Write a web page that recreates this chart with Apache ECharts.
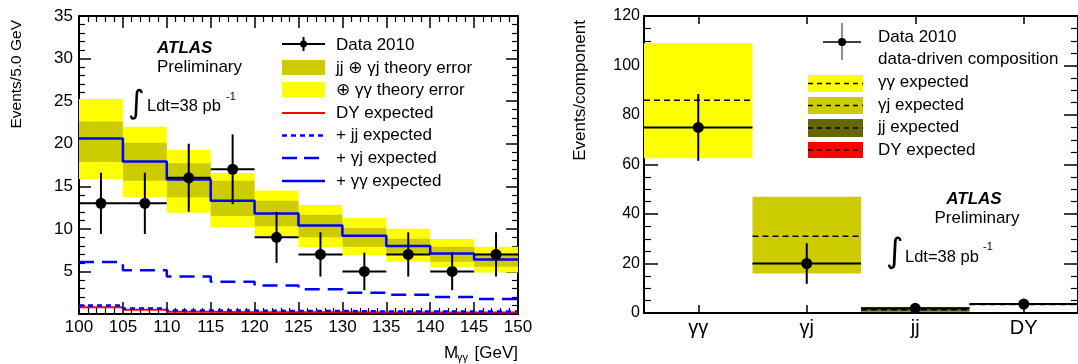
<!DOCTYPE html>
<html><head><meta charset="utf-8">
<script src="https://cdn.jsdelivr.net/npm/echarts@6/dist/echarts.min.js"></script>
<style>html,body{margin:0;padding:0;background:#fff}#c{width:1078px;height:364px}</style>
</head><body><div id="c"></div>
<script>
// ---------- Left panel data (M_gg spectrum) ----------
const binLowEdges = [100,105,110,115,120,125,130,135,140,145];
const binWidth = 5;
const dataCounts = [13,13,16,17,9,7,5,7,5,7];
const dataErr    = [3.6,3.6,4.0,4.1,3.0,2.6,2.2,2.6,2.2,2.6];
const dyExpected = [0.8,0.5,0.25,0.22,0.2,0.2,0.18,0.18,0.18,0.18];
const plusJJ     = [1.0,0.65,0.4,0.4,0.35,0.35,0.3,0.3,0.3,0.3];
const plusGJ     = [6.1,5.15,4.4,3.8,3.35,2.9,2.5,2.25,2.0,1.75];
const plusGG     = [20.6,17.9,15.8,13.3,11.8,10.4,9.2,8.0,7.1,6.4];
const innerErrLo = [17.85,15.65,13.7,11.5,10.3,9.0,7.9,6.98,6.15,5.55];
const innerErrHi = [22.6,20.1,17.7,15.65,13.3,11.65,10.1,8.85,7.9,7.1];
const outerErrLo = [15.85,13.7,11.9,10.15,9.15,7.85,6.94,6.15,5.5,4.86];
const outerErrHi = [25.25,22.0,19.3,16.55,14.5,12.8,11.3,10.0,8.8,7.9];

// ---------- Right panel data (composition) ----------
const compCats    = ['\u03b3\u03b3','\u03b3j','jj','DY'];
const compData    = [75, 20, 1.9, 3.6];
const compDataErr = [13.5, 8.2, 1.2, 1.5];
const compExpect  = [86, 31, 1.35, 3.45];
const compBandLo  = [62.5, 16, 0.5, 3.3];
const compBandHi  = [109, 47, 2.3, 3.6];
const compColors  = ['#ffff00','#cccc00','#666600','#ff0000'];

const FONT = '"Liberation Sans", Arial, "DejaVu Sans", sans-serif';

function stepPoints(vals){
  const pts = binLowEdges.map((x,i)=>[x, vals[i]]);
  pts.push([binLowEdges[binLowEdges.length-1]+binWidth, vals[vals.length-1]]);
  return pts;
}
function bandData(lo, hi){
  return binLowEdges.map((x,i)=>[x, x+binWidth, lo[i], hi[i]]);
}
function bandRender(color){
  return function(params, api){
    const p0 = api.coord([api.value(0), api.value(3)]);
    const p1 = api.coord([api.value(1), api.value(2)]);
    return {type:'rect', shape:{x:p0[0], y:p0[1], width:p1[0]-p0[0], height:p1[1]-p0[1]}, style:{fill:color}};
  };
}
function errRender(params, api){
  const xc = api.value(0), y = api.value(1), e = api.value(2), hw = api.value(3);
  const t = api.coord([xc, y+e]), b = api.coord([xc, y-e]);
  const l = api.coord([xc-hw, y]), r = api.coord([xc+hw, y]);
  const c = api.coord([xc, y]);
  return {type:'group', children:[
    {type:'line', shape:{x1:t[0],y1:t[1],x2:b[0],y2:b[1]}, style:{stroke:'#000',lineWidth:2}},
    {type:'line', shape:{x1:l[0],y1:l[1],x2:r[0],y2:r[1]}, style:{stroke:'#000',lineWidth:2}},
    {type:'circle', shape:{cx:c[0],cy:c[1],r:5.5}, style:{fill:'#000'}}
  ]};
}
function compBandRender(params, api){
  const i = api.value(0);
  const w = api.size([1,0])[0];
  const top = api.coord([i, api.value(2)]);
  const bot = api.coord([i, api.value(1)]);
  const ex = api.coord([i, api.value(3)]);
  const x0 = top[0]-w/2;
  return {type:'group', children:[
    {type:'rect', shape:{x:x0, y:top[1], width:w, height:Math.max(bot[1]-top[1],1)}, style:{fill:compColors[i]}},
    {type:'line', shape:{x1:x0,y1:ex[1],x2:x0+w,y2:ex[1]}, style:{stroke:'#000',lineWidth:1.5,lineDash:[6,4]}}
  ]};
}
function compErrRender(params, api){
  const i = api.value(0), y = api.value(1), e = api.value(2);
  const w = api.size([1,0])[0];
  const c = api.coord([i, y]);
  const t = api.coord([i, y+e]), b = api.coord([i, Math.max(y-e,0)]);
  return {type:'group', children:[
    {type:'line', shape:{x1:t[0],y1:t[1],x2:b[0],y2:b[1]}, style:{stroke:'#000',lineWidth:2}},
    {type:'line', shape:{x1:c[0]-w/2,y1:c[1],x2:c[0]+w/2,y2:c[1]}, style:{stroke:'#000',lineWidth:2}},
    {type:'circle', shape:{cx:c[0],cy:c[1],r:5.5}, style:{fill:'#000'}}
  ]};
}

const axLine = {show:true, onZero:false, lineStyle:{color:'#000', width:2}};
function valAxis(extra){
  return Object.assign({
    type:'value', axisLine:axLine, splitLine:{show:false},
    axisTick:{show:true, inside:true, length:12, lineStyle:{color:'#000', width:1.5}},
    minorTick:{show:true, splitNumber:5, length:6, lineStyle:{color:'#000', width:1.2}},
    axisLabel:{color:'#000', fontSize:17, fontFamily:FONT}
  }, extra);
}

const chart = echarts.init(document.getElementById('c'), null, {renderer:'canvas'});

const T = (x,y,text,o) => Object.assign({type:'text', x:x, y:y, z:100,
  style:Object.assign({text:text, fill:'#000', fontSize:17, fontFamily:FONT, align:'left', verticalAlign:'middle', textAlign:'left', textVerticalAlign:'middle'}, o||{})});
const L = (x1,y1,x2,y2,s) => ({type:'line', z:100, shape:{x1,y1,x2,y2}, style:Object.assign({stroke:'#000', lineWidth:2}, s||{})});
const R = (x,y,w,h,fill) => ({type:'rect', z:100, shape:{x,y,width:w,height:h}, style:{fill}});

const graphics = [
  // axis titles
  T(17,20,'Events/5.0 GeV',{fontSize:15.5, align:'right', textAlign:'right'}),
  T(444,353,'M',{}),
  T(457,358,'\u03b3\u03b3',{fontSize:11}),
  T(518,353,'[GeV]',{align:'right', textAlign:'right'}),
  T(580,20,'Events/component',{fontSize:17, align:'right', textAlign:'right'}),
  // left ATLAS block
  T(157,48,'ATLAS',{fontWeight:'bold', fontStyle:'italic'}),
  T(157,67,'Preliminary',{}),
  T(128,105,'\u222b',{fontSize:32, fontFamily:'"DejaVu Sans"'}),
  T(147,106,'Ldt=38 pb',{fontSize:16.5}),
  T(226,97,'-1',{fontSize:11}),
  // left legend
  L(282,44,325,44), L(303.5,37,303.5,51), {type:'circle', z:100, shape:{cx:303.5,cy:44,r:3.5}, style:{fill:'#000'}},
  T(336,45,'Data 2010'),
  R(282,60,43,15,'#cccc00'), T(336,68,'jj \u2295 \u03b3j theory error'),
  R(282,82,43,15,'#ffff00'), T(336,90,'\u2295 \u03b3\u03b3 theory error'),
  L(282,113,325,113,{stroke:'#ff0000'}), T(336,113,'DY expected'),
  L(282,135.5,325,135.5,{stroke:'#0000ff', lineWidth:2.5, lineDash:[5,4]}), T(336,135.5,'+ jj expected'),
  L(282,158,325,158,{stroke:'#0000ff', lineWidth:2.5, lineDash:[15,7]}), T(336,158,'+ \u03b3j expected'),
  L(282,181,325,181,{stroke:'#0000ff', lineWidth:2.5}), T(336,181,'+ \u03b3\u03b3 expected'),
  // right legend
  L(842,23,842,60,{stroke:'#444', lineWidth:1.2}), L(823,42,861,42,{lineWidth:1.3}),
  {type:'circle', z:100, shape:{cx:842,cy:42,r:4}, style:{fill:'#000'}},
  T(878,37,'Data 2010'), T(878,59,'data-driven composition'),
  R(808,75,55,17,'#ffff00'), L(808,83.5,863,83.5,{lineWidth:1.5, lineDash:[5,4]}), T(878,82,'\u03b3\u03b3 expected'),
  R(808,97,55,17,'#cccc00'), L(808,105.5,863,105.5,{lineWidth:1.5, lineDash:[5,4]}), T(878,105,'\u03b3j expected'),
  R(808,119,55,18,'#666600'), L(808,128,863,128,{lineWidth:1.5, lineDash:[5,4]}), T(878,127,'jj expected'),
  R(808,142,55,16,'#ff0000'), L(808,150,863,150,{lineWidth:1.5, lineDash:[5,4]}), T(878,150,'DY expected'),
  // right ATLAS block
  T(974,199,'ATLAS',{fontWeight:'bold', fontStyle:'italic', align:'center', textAlign:'center'}),
  T(977,218,'Preliminary',{align:'center', textAlign:'center'}),
  T(886,253,'\u222b',{fontSize:34, fontFamily:'"DejaVu Sans"'}),
  T(905,257,'Ldt=38 pb',{fontSize:16.5}),
  T(983,247,'-1',{fontSize:11})
];
// rotate the two y titles
graphics[0].rotation = Math.PI/2;
graphics[4].rotation = Math.PI/2;

const option = {
  animation:false,
  backgroundColor:'#fff',
  grid:[
    {left:79, right:560, top:16, bottom:50},
    {left:644, right:-6, top:16, bottom:51}
  ],
  xAxis:[
    valAxis({gridIndex:0, min:100, max:150, interval:5, position:'bottom', axisLabel:{color:'#000', fontSize:17, fontFamily:FONT, margin:5}}),
    valAxis({gridIndex:0, min:100, max:150, interval:5, position:'top', axisLabel:{show:false}}),
    {gridIndex:1, type:'category', data:compCats, position:'bottom', boundaryGap:true, axisLine:axLine,
     axisTick:{show:true, inside:true, alignWithLabel:true, length:8, lineStyle:{color:'#000', width:1.5}},
     axisLabel:{color:'#000', fontSize:20, fontFamily:FONT, margin:5}, splitLine:{show:false}},
    {gridIndex:1, type:'category', data:compCats, position:'top', boundaryGap:true, axisLine:axLine,
     axisTick:{show:true, inside:true, alignWithLabel:true, length:8, lineStyle:{color:'#000', width:1.5}},
     axisLabel:{show:false}, splitLine:{show:false}}
  ],
  yAxis:[
    valAxis({gridIndex:0, min:0, max:35, interval:5, position:'left',
      axisLabel:{color:'#000', fontSize:17, fontFamily:FONT, margin:6, formatter:v=>v===0?'':String(v)}}),
    valAxis({gridIndex:0, min:0, max:35, interval:5, position:'right', axisLabel:{show:false}}),
    valAxis({gridIndex:1, min:0, max:120, interval:20, position:'left',
      axisTick:{show:true, inside:true, length:14, lineStyle:{color:'#000', width:1.5}},
      minorTick:{show:true, splitNumber:4, length:7, lineStyle:{color:'#000', width:1.2}},
      axisLabel:{color:'#000', fontSize:16, fontFamily:FONT, margin:4}}),
    valAxis({gridIndex:1, min:0, max:120, interval:20, position:'right',
      axisTick:{show:true, inside:true, length:14, lineStyle:{color:'#000', width:1.5}},
      minorTick:{show:true, splitNumber:4, length:7, lineStyle:{color:'#000', width:1.2}},
      axisLabel:{show:false}})
  ],
  series:[
    {name:'\u2295 \u03b3\u03b3 theory error', type:'custom', xAxisIndex:0, yAxisIndex:0, renderItem:bandRender('#ffff00'),
     data:bandData(outerErrLo, outerErrHi), encode:{x:[0,1], y:[2,3]}, z:1},
    {name:'jj \u2295 \u03b3j theory error', type:'custom', xAxisIndex:0, yAxisIndex:0, renderItem:bandRender('#cccc00'),
     data:bandData(innerErrLo, innerErrHi), encode:{x:[0,1], y:[2,3]}, z:2},
    {name:'DY expected', type:'line', step:'end', xAxisIndex:0, yAxisIndex:0, data:stepPoints(dyExpected), symbol:'none',
     lineStyle:{color:'#ff0000', width:2}, z:3},
    {name:'+ jj expected', type:'line', step:'end', xAxisIndex:0, yAxisIndex:0, data:stepPoints(plusJJ), symbol:'none',
     lineStyle:{color:'#0000ff', width:2.5, type:[5,4]}, z:4},
    {name:'+ \u03b3j expected', type:'line', step:'end', xAxisIndex:0, yAxisIndex:0, data:stepPoints(plusGJ), symbol:'none',
     lineStyle:{color:'#0000ff', width:2.5, type:[15,8]}, z:4},
    {name:'+ \u03b3\u03b3 expected', type:'line', step:'end', xAxisIndex:0, yAxisIndex:0, data:stepPoints(plusGG), symbol:'none',
     lineStyle:{color:'#0000ff', width:2.5}, z:5},
    {name:'Data 2010', type:'custom', xAxisIndex:0, yAxisIndex:0, renderItem:errRender,
     data:binLowEdges.map((x,i)=>[x+binWidth/2, dataCounts[i], dataErr[i], binWidth/2]), encode:{x:0, y:1}, z:10},
    {name:'expected composition', type:'custom', xAxisIndex:2, yAxisIndex:2, renderItem:compBandRender,
     data:compCats.map((c,i)=>[i, compBandLo[i], compBandHi[i], compExpect[i]]), encode:{x:0, y:[1,2]}, z:2},
    {name:'Data 2010 data-driven composition', type:'custom', xAxisIndex:2, yAxisIndex:2, renderItem:compErrRender,
     data:compCats.map((c,i)=>[i, compData[i], compDataErr[i]]), encode:{x:0, y:1}, z:10}
  ],
  graphic:graphics
};
chart.setOption(option);
</script>
</body></html>
